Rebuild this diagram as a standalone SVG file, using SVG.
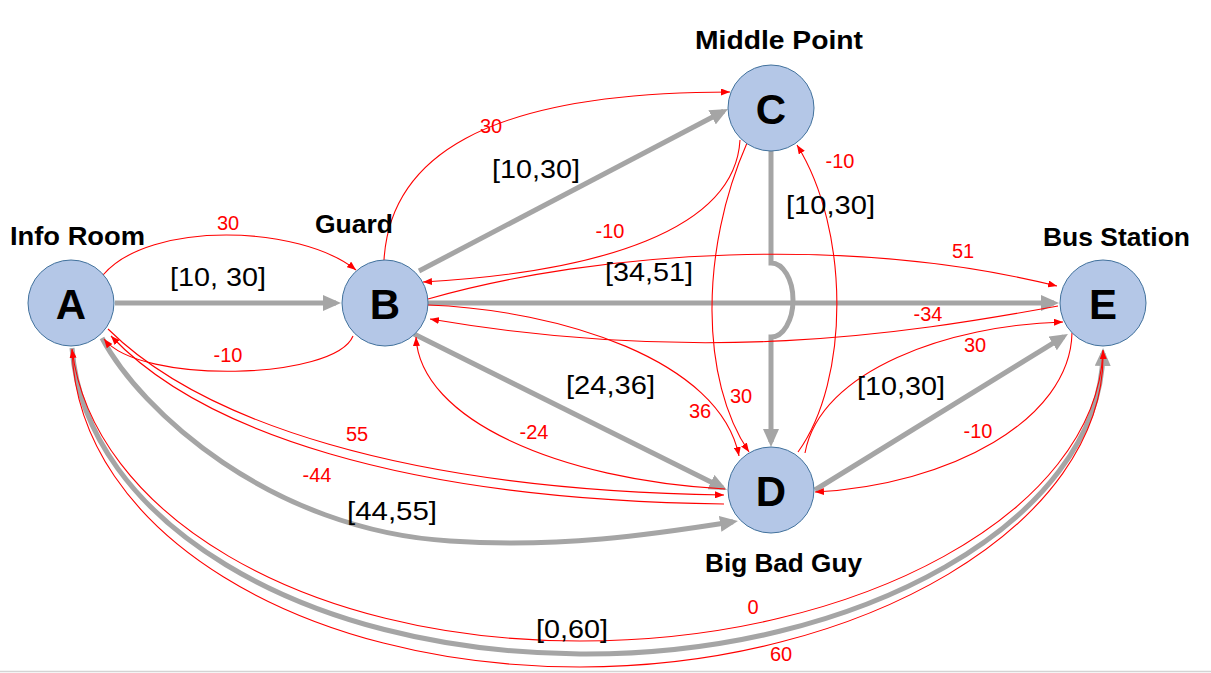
<svg xmlns="http://www.w3.org/2000/svg" width="1211" height="673" viewBox="0 0 1211 673">
<defs>
<style>
.g{fill:none;stroke:#a5a5a5;stroke-width:5;marker-end:url(#ga)}
.r{fill:none;stroke:#ff0000;stroke-width:1.1;marker-end:url(#ra)}
.nc{fill:#b4c7e7;stroke:#41719c;stroke-width:1}
.nl{font-family:"Liberation Sans",Arial,sans-serif;font-weight:bold;font-size:42px;fill:#000;text-anchor:middle}
.nt{font-family:"Liberation Sans",Arial,sans-serif;font-weight:bold;font-size:26px;fill:#000}
.bl{font-family:"Liberation Sans",Arial,sans-serif;font-size:26px;fill:#000}
.rl{font-family:"Liberation Sans",Arial,sans-serif;font-size:20px;fill:#ff0000;text-anchor:middle}
</style>
<marker id="ga" markerUnits="userSpaceOnUse" viewBox="0 0 18 16" markerWidth="18" markerHeight="16" refX="13" refY="8" orient="auto">
<path d="M0,0 L18,8 L0,16 Z" fill="#a5a5a5"/>
</marker>
<marker id="ra" markerUnits="userSpaceOnUse" viewBox="0 0 9 7" markerWidth="9" markerHeight="7" refX="9" refY="3.5" orient="auto">
<path d="M0,0 L9,3.5 L0,7 Z" fill="#ff0000"/>
</marker>
</defs>
<rect x="0" y="0" width="1211" height="673" fill="#ffffff"/>
<line x1="0" y1="671.5" x2="1211" y2="671.5" stroke="#d4d4d4" stroke-width="1.5"/>

<g id="connectors">
<!-- gray interval edges -->
<path class="g" d="M115,303 L336,303"/>
<path class="g" d="M419,271 L723.6,111.3"/>
<path class="g" d="M771,151 V263 A22,37 0 0 1 771,337 V442"/>
<path class="g" d="M428,303 L1054,303"/>
<path class="g" d="M414,334 L722.5,487.8"/>
<path class="g" d="M815,490 L1063.7,336.6"/>
<path class="g" d="M102,338 C140,410 270,530 450,541 C560,548 650,535 733,521.8"/>
<path class="g" d="M72,348 C85,520 300,652 580,654 C860,656 1100,520 1103,353"/>
<!-- red distance edges -->
<path class="r" d="M103,275 C150,220 300,225 356,270"/>
<path class="r" d="M353,336 C335,380 140,385 104,339"/>
<path class="r" d="M384,260 C390,160 480,92 730,92"/>
<path class="r" d="M740,140 C735,230 600,272 423,282"/>
<path class="r" d="M428,299 C600,250 850,235 1057,286"/>
<path class="r" d="M1058,306 C900,335 700,365 430,319"/>
<path class="r" d="M428,305 C560,310 720,360 739,456"/>
<path class="r" d="M725,489 C560,480 420,420 416,337"/>
<path class="r" d="M747,143 C700,250 700,380 749,452"/>
<path class="r" d="M798,452 C850,380 850,230 797,145"/>
<path class="r" d="M805,453 C820,370 950,325 1063,322"/>
<path class="r" d="M1072,333 C1070,420 950,485 815,492"/>
<path class="r" d="M108,329 C200,420 400,490 724,495"/>
<path class="r" d="M724,504 C400,500 200,430 111,336"/>
<path class="r" d="M1103,351 C1096,512 860,641 580,641 C300,641 92,512 72,349"/>
<path class="r" d="M72,350 C78,532 300,667 580,667 C860,667 1108,525 1103,350"/>
<!-- black interval labels -->
<text class="bl" x="170" y="286" textLength="96" lengthAdjust="spacingAndGlyphs">[10, 30]</text>
<text class="bl" x="492" y="178" textLength="88" lengthAdjust="spacingAndGlyphs">[10,30]</text>
<text class="bl" x="786" y="214" textLength="89" lengthAdjust="spacingAndGlyphs">[10,30]</text>
<text class="bl" x="605" y="281" textLength="88" lengthAdjust="spacingAndGlyphs">[34,51]</text>
<text class="bl" x="566" y="394" textLength="89" lengthAdjust="spacingAndGlyphs">[24,36]</text>
<text class="bl" x="857" y="395" textLength="88" lengthAdjust="spacingAndGlyphs">[10,30]</text>
<text class="bl" x="347" y="520" textLength="90" lengthAdjust="spacingAndGlyphs">[44,55]</text>
<text class="bl" x="536" y="638" textLength="72" lengthAdjust="spacingAndGlyphs">[0,60]</text>
<!-- red weight labels -->
<text class="rl" x="228" y="230">30</text>
<text class="rl" x="228" y="362">-10</text>
<text class="rl" x="491" y="133">30</text>
<text class="rl" x="610" y="238">-10</text>
<text class="rl" x="963" y="258">51</text>
<text class="rl" x="928" y="321">-34</text>
<text class="rl" x="975" y="352">30</text>
<text class="rl" x="978" y="438">-10</text>
<text class="rl" x="741" y="403">30</text>
<text class="rl" x="840" y="168">-10</text>
<text class="rl" x="700" y="418">36</text>
<text class="rl" x="534" y="439">-24</text>
<text class="rl" x="357" y="441">55</text>
<text class="rl" x="317" y="482">-44</text>
<text class="rl" x="753" y="614">0</text>
<text class="rl" x="781" y="661">60</text>
</g>

<g id="node-A">
<circle class="nc" cx="71" cy="303" r="43"/>
<text class="nl" x="71" y="319">A</text>
<text class="nt" x="10" y="245" textLength="135" lengthAdjust="spacingAndGlyphs">Info Room</text>
</g>
<g id="node-B">
<circle class="nc" cx="385" cy="303" r="43"/>
<text class="nl" x="385" y="319">B</text>
<text class="nt" x="315" y="233" textLength="78" lengthAdjust="spacingAndGlyphs">Guard</text>
</g>
<g id="node-C">
<circle class="nc" cx="771" cy="108" r="43"/>
<text class="nl" x="771" y="124">C</text>
<text class="nt" x="695" y="49" textLength="168" lengthAdjust="spacingAndGlyphs">Middle Point</text>
</g>
<g id="node-D">
<circle class="nc" cx="771" cy="490" r="43"/>
<text class="nl" x="771" y="506">D</text>
<text class="nt" x="705" y="572" textLength="157" lengthAdjust="spacingAndGlyphs">Big Bad Guy</text>
</g>
<g id="node-E">
<circle class="nc" cx="1103" cy="303" r="43"/>
<text class="nl" x="1103" y="319">E</text>
<text class="nt" x="1043" y="246" textLength="147" lengthAdjust="spacingAndGlyphs">Bus Station</text>
</g>
</svg>
